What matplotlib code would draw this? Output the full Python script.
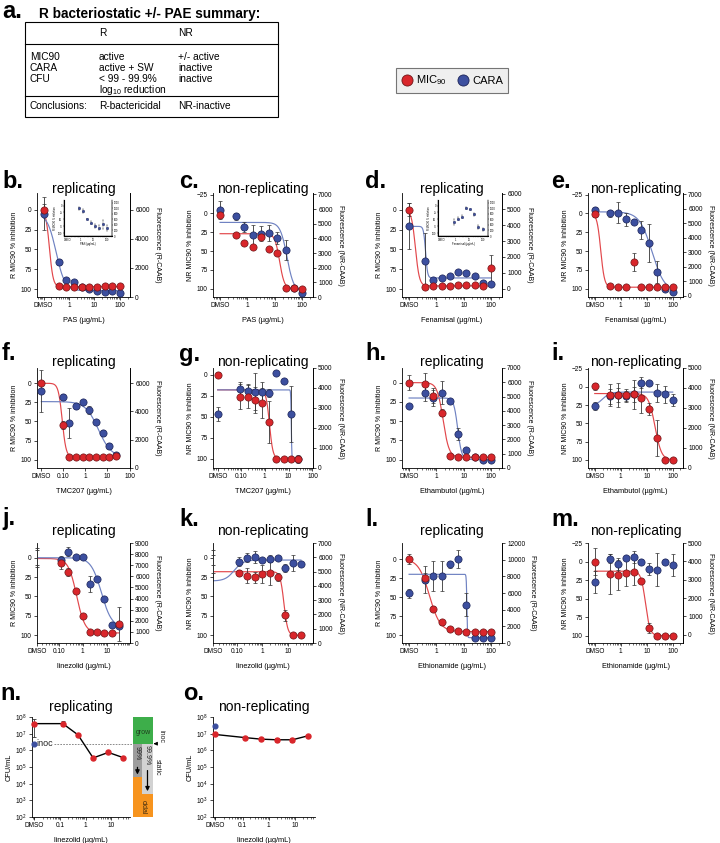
import numpy as np
import matplotlib
matplotlib.use("Agg")
import matplotlib.pyplot as plt
import matplotlib.transforms as mtransforms
from matplotlib.patches import Rectangle
from matplotlib.lines import Line2D
from matplotlib.ticker import FixedLocator, LogLocator, NullFormatter

plt.rcParams['font.family'] = ['Liberation Sans', 'DejaVu Sans']
plt.rcParams['mathtext.fontset'] = 'custom'
plt.rcParams['mathtext.rm'] = 'Liberation Sans'
plt.rcParams['mathtext.it'] = 'Liberation Sans:italic'

W, H = 720, 843
RED, RED_EDGE, RED_LINE = "#d9262b", "#6e1618", "#e2474b"
BLUE, BLUE_EDGE, BLUE_LINE = "#3c4f9f", "#1c2458", "#6f82c2"

# ---- data (first value of each list = DMSO) ----
conc_2fold = [0.39, 0.78, 1.56, 3.125, 6.25, 12.5, 25, 50, 100]
conc_tmc = [0.098, 0.195, 0.39, 0.78, 1.56, 3.125, 6.25, 12.5, 25]
conc_lzd = [0.125, 0.25, 0.5, 1, 2, 4, 8, 16, 32]

b_red = [0, 96, 97, 97, 97, 97, 97, 96, 96, 96]
b_red_err = [7, 0, 0, 0, 0, 0, 0, 0, 0, 0]
b_blue = [5, 66, 88, 91, 97, 100, 102, 104, 103, 105]
b_blue_err = [21, 4, 2, 0, 0, 0, 0, 0, 0, 0]

c_red = [2, 29, 39, 44, 32, 47, 52, 99, 99, 101]
c_red_err = [3, 0, 0, 0, 0, 0, 0, 0, 0, 0]
c_blue = [-5, 4, 18, 29, 27, 26, 33, 49, 99, 106]
c_blue_err = [12, 5, 7, 13, 10, 11, 8, 13, 0, 0]

d_red = [0, 97, 96, 96, 96, 95, 95, 95, 96, 74]
d_red_err = [8, 0, 0, 0, 0, 0, 0, 0, 0, 17]
d_blue = [21, 65, 88, 86, 84, 79, 80, 83, 92, 93]
d_blue_err = [29, 35, 0, 0, 0, 0, 0, 0, 0, 0]

e_red = [1, 97, 98, 98, 64, 98, 98, 98, 98, 98]
e_red_err = [4, 0, 0, 0, 12, 0, 0, 0, 0, 0]
e_blue = [-5, 0, -1, 8, 11, 22, 39, 78, 101, 105]
e_blue_err = [4, 5, 14, 9, 3, 12, 25, 15, 0, 0]

f_red = [0, 55, 96, 97, 97, 97, 97, 97, 97, 95]
f_red_err = [0, 5, 0, 0, 0, 0, 0, 0, 0, 3]
f_blue = [10, 18, 52, 30, 25, 35, 51, 65, 82, 94]
f_blue_err = [27, 4, 20, 4, 0, 5, 0, 4, 4, 0]

g_red = [0, 26, 26, 30, 34, 56, 100, 100, 100, 100]
g_red_err = [3, 15, 14, 15, 18, 25, 0, 0, 0, 3]
g_blue = [47, 17, 19, 20, 21, 22, -2, 7, 47, 100]
g_blue_err = [8, 8, 8, 22, 12, 5, 0, 0, 33, 5]

h_red = [0, 2, 17, 39, 96, 97, 97, 97, 97, 97]
h_red_err = [10, 14, 10, 5, 0, 0, 0, 0, 0, 0]
h_blue = [31, 14, 20, 13, 24, 67, 88, 97, 100, 101]
h_blue_err = [0, 10, 10, 15, 3, 8, 0, 3, 0, 0]

i_red = [-1, 11, 11, 11, 10, 15, 30, 70, 100, 100]
i_red_err = [5, 15, 17, 8, 20, 20, 8, 25, 0, 0]
i_blue = [26, 13, 11, 13, 10, -6, -6, 8, 10, 18]
i_blue_err = [5, 10, 10, 8, 10, 8, 0, 12, 12, 8]

j_red = [0, 7, 18, 43, 75, 96, 96, 97, 97, 86]
j_red_err = [10, 8, 5, 3, 0, 0, 0, 0, 0, 22]
j_blue = [0, 3, -8, -1, -1, 34, 28, 53, 87, 88]
j_blue_err = [12, 5, 6, 0, 0, 10, 0, 0, 0, 0]

k_red = [0, 20, 23, 25, 21, 20, 25, 74, 100, 100]
k_red_err = [10, 4, 10, 7, 12, 15, 5, 7, 0, 0]
k_blue = [8, 5, 0, -1, 3, 1, 0, 13, 7, 8]
k_blue_err = [12, 6, 6, 8, 3, 5, 0, 5, 10, 0]

l_red = [0, 25, 65, 83, 92, 94, 95, 95, 95, 95]
l_red_err = [7, 7, 3, 3, 0, 0, 0, 0, 0, 0]
l_blue = [45, 27, 22, 22, 7, 0, 60, 103, 103, 103]
l_blue_err = [6, 18, 20, 20, 5, 12, 15, 0, 0, 0]

m_red = [0, 17, 18, 15, 14, 26, 90, 100, 100, 100]
m_red_err = [18, 27, 20, 18, 18, 0, 7, 0, 0, 0]
m_blue = [28, -4, 3, -5, -6, 0, 10, 11, 0, 5]
m_blue_err = [15, 6, 8, 3, 8, 3, 8, 22, 3, 15]

# curve fits: (top, bottom, EC50, hill)
b_fits = [(0, 97, 0.17, 6), (5, 102, 0.31, 2.5)]
c_fits = [(27, 100, 15, 5), (12, 104, 28, 3.5)]
d_fits = [(0, 96, 0.17, 6), (21, 86, 0.4, 12)]
e_fits = [(0, 98, 0.17, 6), (-2, 104, 16, 1.8)]
f_fits = [(0, 97, 0.095, 5), (24, 97, 4, 1.5)]
g_fits = [(18, 100, 1.6, 6), (18, 100, 13, 40)]
h_fits = [(0, 97, 1.75, 4), (20, 100, 6, 6)]
i_fits = [(9, 100, 21, 3.5), (26, 7, 0.2, 3)]
j_fits = [(1, 97, 0.55, 2.5), (0, 90, 6, 2)]
k_fits = [(18, 100, 7, 6), (30, 3, 0.08, 2.5)]
l_fits = [(0, 95, 0.55, 2.2), (20, 103, 13, 40)]
m_fits = [(13, 100, 9, 5), None]

b_inset = [10, 20, 50, 62, 74, 80, 68, 82]
b_inset_err = [6, 8, 0, 5, 6, 8, 15, 10]
d_inset = [60, 48, 40, 10, 14, 32, 78, 86]
d_inset_err = [10, 5, 5, 3, 3, 5, 6, 5]

cfu_conc = [0.125, 0.5, 2, 8, 32]
n_cfu = [4.0e7, 4.0e7, 8.5e6, 3.5e5, 7.5e5, 3.6e5]
n_cfu_lo = [3.4e7, 1.0e7, 0, 0, 0, 0]
n_cfu_hi = [4.0e7, 1.5e7, 0, 0, 0, 0]
n_inoc = 2.5e6
o_cfu = [9.0e6, 5.8e6, 4.7e6, 4.3e6, 4.3e6, 7.5e6]
o_cfu_lo = [0, 0, 0, 1.2e6, 1.2e6, 0]
o_cfu_hi = [0, 0, 0, 1.5e6, 1.5e6, 0]
o_inoc = 3.0e7

table_rows = [("MIC90", "active", "+/- active"),
              ("CARA", "active + SW", "inactive"),
              ("CFU", "< 99 - 99.9%", "inactive"),
              ("", "log$_{10}$ reduction", "")]

fig = plt.figure(figsize=(7.2, 8.43), dpi=100)


def rect_px(l, t, r, b):
    return [l / W, 1 - b / H, (r - l) / W, (b - t) / H]


def fit_curve(x0, x1, p):
    top, bottom, ec50, hill = p
    xs = np.logspace(np.log10(x0), np.log10(x1), 500)
    return xs, top + (bottom - top) * xs**hill / (xs**hill + ec50**hill)


def style_ax(ax):
    for s in ['left', 'bottom', 'right']:
        ax.spines[s].set_linewidth(0.6)
    ax.spines['top'].set_visible(False)
    ax.tick_params(which='major', length=2.2, width=0.5, pad=1.5, labelsize=4.7)
    ax.tick_params(which='minor', length=1.2, width=0.4)


cols = [(37, 130), (213, 313), (402, 502), (588, 683)]
rows = [(193, 297), (368, 468), (543, 643)]
letter_y = [181, 354, 519]
letter_x = [2, 179, 365, 551]
title_y = [189, 362, 531]

panels = [
    # letter, row, col, conc, dmso, red, red_err, blue, blue_err, fits, left lim, right lim, rstep, drug, dmso markers
    ("b", 0, 0, conc_2fold, 0.1, b_red, b_red_err, b_blue, b_blue_err, b_fits, (110, -21), (0, 7150), 2000, "PAS", True),
    ("c", 0, 1, conc_2fold, 0.1, c_red, c_red_err, c_blue, c_blue_err, c_fits, (111, -27), (0, 7100), 1000, "PAS", True),
    ("d", 0, 2, conc_2fold, 0.1, d_red, d_red_err, d_blue, d_blue_err, d_fits, (110, -21), (-530, 6040), 1000, "Fenamisal", True),
    ("e", 0, 3, conc_2fold, 0.1, e_red, e_red_err, e_blue, e_blue_err, e_fits, (111, -27), (-100, 7100), 1000, "Fenamisal", True),
    ("f", 1, 0, conc_tmc, 0.011, f_red, f_red_err, f_blue, f_blue_err, f_fits, (111, -20), (0, 7060), 2000, "TMC207", True),
    ("g", 1, 1, conc_tmc, 0.011, g_red, g_red_err, g_blue, g_blue_err, g_fits, (111, -8), (0, 5000), 1000, "TMC207", True),
    ("h", 1, 2, conc_2fold, 0.1, h_red, h_red_err, h_blue, h_blue_err, h_fits, (111, -19), (0, 7000), 1000, "Ethambutol", True),
    ("i", 1, 3, conc_2fold, 0.1, i_red, i_red_err, i_blue, i_blue_err, i_fits, (111, -26), (0, 5000), 1000, "Ethambutol", True),
    ("j", 2, 0, conc_lzd, 0.012, j_red, j_red_err, j_blue, j_blue_err, j_fits, (110, -19), (0, 9000), 1000, "linezolid", False),
    ("k", 2, 1, conc_lzd, 0.012, k_red, k_red_err, k_blue, k_blue_err, k_fits, (110, -19), (0, 7000), 1000, "linezolid", False),
    ("l", 2, 2, conc_2fold, 0.1, l_red, l_red_err, l_blue, l_blue_err, l_fits, (110, -21), (0, 12000), 2000, "Ethionamide", True),
    ("m", 2, 3, conc_2fold, 0.1, m_red, m_red_err, m_blue, m_blue_err, m_fits, (110, -25), (-450, 5000), 1000, "Ethionamide", True),
]

for (let, r, c, conc, dmso, red, red_err, blue, blue_err, fits, ylim, rlim, rstep, drug, dmso_mk) in panels:
    l, rr = cols[c]
    t, b = rows[r]
    ax = fig.add_axes(rect_px(l, t, rr, b))
    ax.set_xscale('log')
    x = [dmso] + list(conc)
    if dmso == 0.1:
        xlim = (0.055, 250)
        xt, xtl = [0.1, 1, 10, 100], ["DMSO", "1", "10", "100"]
    elif dmso == 0.011:
        xlim = (0.007, 105)
        xt, xtl = [0.011, 0.1, 1, 10, 100], ["DMSO", "0.10", "1", "10", "100"]
    else:
        xlim = (0.012, 95)
        xt, xtl = [0.012, 0.1, 1, 10], ["DMSO", "0.10", "1", "10"]
    for p, col in zip(fits, [RED_LINE, BLUE_LINE]):
        if p is not None:
            xs, ys = fit_curve(x[0], x[-1], p)
            ax.plot(xs, ys, color=col, lw=0.85, zorder=2)
    start = 0 if dmso_mk else 1
    if not dmso_mk:
        ax.errorbar([x[0], x[0]], [red[0], blue[0]], yerr=[red_err[0], blue_err[0]], fmt='none',
                    ecolor='#333333', elinewidth=0.6, capsize=1.6, capthick=0.6, zorder=3, clip_on=False)
    for vals, errs, fc, ec in [(blue, blue_err, BLUE, BLUE_EDGE), (red, red_err, RED, RED_EDGE)]:
        ax.errorbar(x[start:], vals[start:], yerr=errs[start:], fmt='o', ms=5.2, mfc=fc, mec=ec, mew=0.5,
                    ecolor='#333333', elinewidth=0.6, capsize=1.6, capthick=0.6, zorder=4, clip_on=False)
    ax.set_xlim(*xlim)
    ax.set_ylim(*ylim)
    yt = [-25, 0, 25, 50, 75, 100] if ylim[1] <= -25 else [0, 25, 50, 75, 100]
    ax.set_yticks(yt)
    ax.xaxis.set_major_locator(FixedLocator(xt))
    ax.set_xticklabels(xtl)
    ax.xaxis.set_minor_locator(LogLocator(base=10, subs=np.arange(2, 10)))
    ax.xaxis.set_minor_formatter(NullFormatter())
    rep = "replicating" if c in (0, 2) else "non-replicating"
    pre = "R" if rep == "replicating" else "NR"
    ax.set_ylabel(pre + " MIC90 % inhibition", fontsize=5, labelpad=2)
    ax.set_xlabel(drug + " (µg/mL)", fontsize=5.3, labelpad=6)
    style_ax(ax)
    ax2 = ax.twinx()
    ax2.set_ylim(*rlim)
    ax2.set_yticks(np.arange(0, rlim[1] + 1, rstep))
    ax2.set_ylabel("Fluorescence (" + pre + "-CAAB)", fontsize=5, rotation=270, labelpad=8)
    style_ax(ax2)
    ax2.spines['left'].set_visible(False)
    ax2.spines['bottom'].set_visible(False)
    fig.text((l + rr) / 2 / W, 1 - title_y[r] / H, rep, fontsize=10, ha='center', va='center')
    fig.text(letter_x[c] / W, 1 - letter_y[r] / H, let + ".", fontsize=17, fontweight='bold', ha='left', va='center')

# insets in b and d
for (l, t, rr, b), vals, errs, drug in [((64, 200, 112, 236), b_inset, b_inset_err, "PAS"),
                                       ((438, 200, 488, 236), d_inset, d_inset_err, "Fenamisal")]:
    ax = fig.add_axes(rect_px(l, t, rr, b))
    ax.set_xscale('log')
    ax.errorbar(conc_2fold[1:], vals, yerr=errs, fmt='o', ms=1.8, mfc=BLUE, mec=BLUE_EDGE, mew=0.3,
                ecolor='#444444', elinewidth=0.3, capsize=0.6, capthick=0.3)
    ax.set_xlim(0.055, 250)
    ax.set_ylim(110, -20)
    ax.set_yticks([0, 25, 50, 75, 100])
    ax.xaxis.set_major_locator(FixedLocator([0.1, 1, 10, 100]))
    ax.set_xticklabels(["DMSO", "1", "10", "100"])
    ax.xaxis.set_minor_formatter(NullFormatter())
    ax.set_xlabel(drug + " (µg/mL)", fontsize=2, labelpad=0.5)
    ax.set_ylabel("R MIC90 % inhibition", fontsize=1.8, labelpad=0.5)
    for s in ['left', 'bottom', 'right']:
        ax.spines[s].set_linewidth(0.3)
    ax.spines['top'].set_visible(False)
    ax.tick_params(length=0.8, width=0.3, pad=0.5, labelsize=1.8)
    ax.tick_params(which='minor', length=0.5, width=0.2)
    a2 = ax.twinx()
    a2.set_ylim(0, 1300)
    a2.set_yticks([0, 200, 400, 600, 800, 1000, 1200])
    a2.spines['top'].set_visible(False)
    a2.spines['right'].set_linewidth(0.3)
    a2.tick_params(length=0.8, width=0.3, pad=0.5, labelsize=1.8)

# CFU panels n and o
for let, (l, rr), cfu, lo, hi, inoc, rep in [("n", (32, 130), n_cfu, n_cfu_lo, n_cfu_hi, n_inoc, "replicating"),
                                              ("o", (213, 315), o_cfu, o_cfu_lo, o_cfu_hi, o_inoc, "non-replicating")]:
    ax = fig.add_axes(rect_px(l, 717, rr, 817))
    ax.set_xscale('log')
    ax.set_yscale('log')
    x = [0.0088] + cfu_conc
    ax.errorbar(x, cfu, yerr=[lo, hi], fmt='-o', color='black', lw=1.0, ms=3.6, mfc=RED, mec=RED,
                ecolor='#333333', elinewidth=0.6, capsize=1.6, capthick=0.6, zorder=3, clip_on=False)
    ax.plot([0.0088], [inoc], 'o', ms=3.4, color=BLUE, zorder=4, clip_on=False)
    ax.set_xlim(0.0075, 58)
    ax.set_ylim(1e2, 1e8)
    ax.yaxis.set_major_locator(FixedLocator([10.0**k for k in range(2, 9)]))
    ax.set_yticklabels(["10$^{%d}$" % k for k in range(2, 9)])
    ax.yaxis.set_minor_formatter(NullFormatter())
    ax.yaxis.set_minor_locator(FixedLocator([]))
    ax.xaxis.set_major_locator(FixedLocator([0.0088, 0.1, 1, 10]))
    ax.set_xticklabels(["DMSO", "0.1", "1", "10"])
    ax.xaxis.set_minor_locator(LogLocator(base=10, subs=np.arange(2, 10)))
    ax.xaxis.set_minor_formatter(NullFormatter())
    ax.set_ylabel("CFU/mL", fontsize=5.3, labelpad=2)
    ax.set_xlabel("linezolid (µg/mL)", fontsize=5.3, labelpad=6)
    for s in ['left', 'bottom']:
        ax.spines[s].set_linewidth(0.6)
    ax.spines['top'].set_visible(False)
    ax.spines['right'].set_visible(False)
    ax.tick_params(which='major', length=2.2, width=0.5, pad=1.5, labelsize=4.7)
    ax.tick_params(which='minor', length=1.2, width=0.4)
    fig.text((l + rr) / 2 / W, 1 - 707 / H, rep, fontsize=10, ha='center', va='center')
    fig.text((0 if let == "n" else 183) / W, 1 - 693 / H, let + ".", fontsize=17, fontweight='bold',
             ha='left', va='center')
    if let == "n":
        bl = mtransforms.blended_transform_factory(ax.transAxes, ax.transData)
        ax.text(0.011, inoc, "inoc", fontsize=6.5, va='center', ha='left', color='#222222')
        ax.plot([0.22, 1.03], [inoc, inoc], transform=bl, ls=(0, (2, 1.5)), lw=0.6, color='#777777',
                clip_on=False, zorder=1)
        x0, xm, x1 = 1.03, 1.122, 1.235
        ax.add_patch(Rectangle((x0, inoc), x1 - x0, 1e8 - inoc, transform=bl, color="#3dae4a", clip_on=False, lw=0))
        ax.add_patch(Rectangle((x0, inoc * 0.01), xm - x0, inoc * 0.99, transform=bl, color="#9d9d9d", clip_on=False, lw=0))
        ax.add_patch(Rectangle((xm, inoc * 0.001), x1 - xm, inoc * 0.999, transform=bl, color="#d2d2d2", clip_on=False, lw=0))
        ax.add_patch(Rectangle((x0, 1e2), xm - x0, inoc * 0.01 - 1e2, transform=bl, color="#f7941e", clip_on=False, lw=0))
        ax.add_patch(Rectangle((xm, 1e2), x1 - xm, inoc * 0.001 - 1e2, transform=bl, color="#f7941e", clip_on=False, lw=0))
        ax.text((x0 + x1) / 2, 1.2e7, "grow", transform=bl, fontsize=5, ha='center', va='center', color='#1f3d1f')
        ax.text((x0 + xm) / 2, 6.5e5, "99%", transform=bl, fontsize=5, ha='center', va='center', rotation=270, color='#222222')
        ax.text((xm + x1) / 2, 5e5, "99.9%", transform=bl, fontsize=5, ha='center', va='center', rotation=270, color='#222222')
        ax.text((x0 + x1) / 2, 4e2, "cidal", transform=bl, fontsize=5, ha='center', va='center', rotation=270, color='#3d2a10')
        ax.annotate("", xy=((x0 + xm) / 2, 2.4e4), xytext=((x0 + xm) / 2, 1.4e5), xycoords=bl,
                    arrowprops=dict(arrowstyle='-|>', color='black', lw=0.9, mutation_scale=6))
        ax.annotate("", xy=((xm + x1) / 2, 2.4e3), xytext=((xm + x1) / 2, 9e4), xycoords=bl,
                    arrowprops=dict(arrowstyle='-|>', color='black', lw=0.9, mutation_scale=6))
        ax.annotate("", xy=(1.24, inoc), xytext=(1.29, inoc), xycoords=bl,
                    arrowprops=dict(arrowstyle='-|>', color='black', lw=0.7, mutation_scale=5))
        ax.text(1.275, 1.0e5, "static", transform=bl, fontsize=5, ha='center', va='center', rotation=270, color='#222222')
        ax.text(1.32, 7e6, "inoc", transform=bl, fontsize=5, ha='center', va='center', rotation=270, color='#222222')

# legend
handles = [Line2D([], [], ls='none', marker='o', ms=8, mfc=RED, mec=RED_EDGE, mew=0.6),
           Line2D([], [], ls='none', marker='o', ms=8, mfc=BLUE, mec=BLUE_EDGE, mew=0.6)]
leg = fig.legend(handles, ["MIC$_{90}$", "CARA"], loc='center', bbox_to_anchor=(452 / W, 1 - 80.5 / H),
                 ncol=2, frameon=True, fancybox=False, fontsize=8, handletextpad=0.3, columnspacing=1.0,
                 handlelength=1.0, borderpad=0.5)
leg.get_frame().set_facecolor('#ececec')
leg.get_frame().set_edgecolor('#555555')
leg.get_frame().set_linewidth(0.8)

# panel a: summary table
fig.text(2 / W, 1 - 11 / H, "a.", fontsize=17, fontweight='bold', ha='left', va='center')
fig.text(39 / W, 1 - 14 / H, "R bacteriostatic +/- PAE summary:", fontsize=9.8, fontweight='bold',
         ha='left', va='center')
fig.add_artist(Rectangle((25 / W, 1 - 117 / H), 253 / W, 95 / H, transform=fig.transFigure,
                         fill=False, lw=0.8, edgecolor='black'))
for yy in [44, 96]:
    fig.add_artist(Line2D([25 / W, 278 / W], [1 - yy / H] * 2, transform=fig.transFigure, lw=0.8, color='black'))
tx = [30, 99, 178]
fig.text(tx[1] / W, 1 - 33 / H, "R", fontsize=7.3, va='center')
fig.text(tx[2] / W, 1 - 33 / H, "NR", fontsize=7.3, va='center')
for k, row in enumerate(table_rows):
    for xx, s in zip(tx, row):
        if s:
            fig.text(xx / W, 1 - (57 + 11 * k) / H, s, fontsize=7.3, va='center')
for xx, s in zip(tx, ["Conclusions:", "R-bactericidal", "NR-inactive"]):
    fig.text(xx / W, 1 - 106 / H, s, fontsize=7.3, va='center')

fig.savefig("out.png", dpi=100)
